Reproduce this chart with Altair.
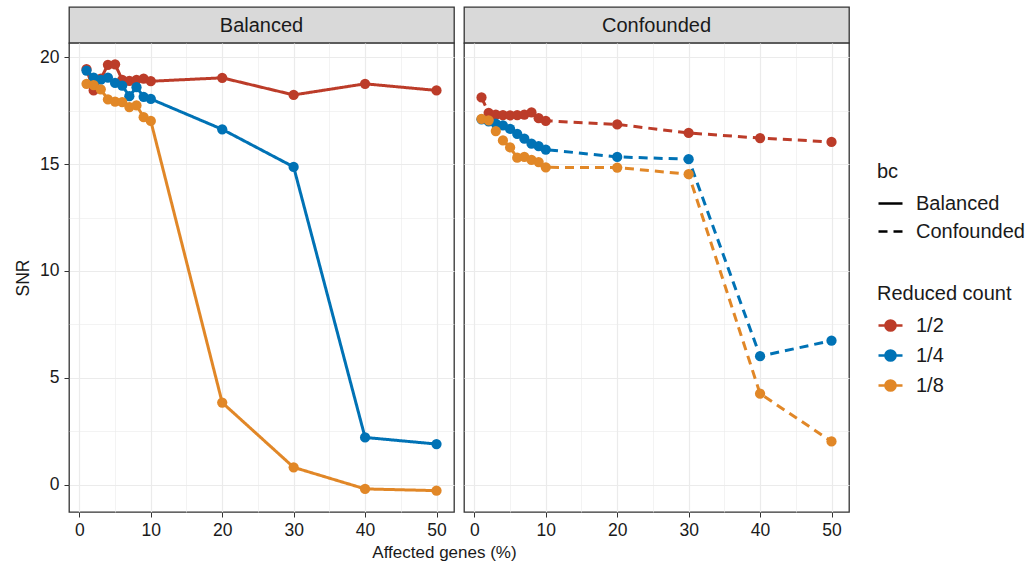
import altair as alt
import pandas as pd

# ---------------- data ----------------
pct = [1, 2, 3, 4, 5, 6, 7, 8, 9, 10, 20, 30, 40, 50]
panels = ["Balanced", "Confounded"]
counts = ["1/2", "1/4", "1/8"]
colors = ["#BC3C29", "#0072B5", "#E18727"]

bal_half = [19.45, 18.45, 19.0, 19.65, 19.67, 18.95, 18.9, 18.95, 19.0, 18.88, 19.04, 18.24, 18.76, 18.45]
bal_quarter = [19.38, 19.05, 18.95, 19.05, 18.8, 18.68, 18.18, 18.6, 18.15, 18.05, 16.63, 14.87, 2.21, 1.90]
bal_eighth = [18.76, 18.7, 18.5, 18.03, 17.93, 17.9, 17.67, 17.75, 17.2, 17.02, 3.84, 0.81, -0.2, -0.28]

conf_half = [18.12, 17.4, 17.32, 17.3, 17.28, 17.3, 17.32, 17.42, 17.15, 17.03, 16.86, 16.46, 16.22, 16.04]
conf_quarter = [17.1, 17.0, 16.9, 16.81, 16.65, 16.42, 16.19, 15.96, 15.84, 15.68, 15.34, 15.23, 6.01, 6.74]
conf_eighth = [17.12, 17.05, 16.55, 16.11, 15.78, 15.3, 15.34, 15.2, 15.1, 14.85, 14.84, 14.53, 4.26, 2.02]

x_ticks = [0, 5, 10, 15, 20, 25, 30, 35, 40, 45, 50]
y_ticks = [0, 2.5, 5, 7.5, 10, 12.5, 15, 17.5, 20]

series = {
    ("Balanced", "1/2"): bal_half,
    ("Balanced", "1/4"): bal_quarter,
    ("Balanced", "1/8"): bal_eighth,
    ("Confounded", "1/2"): conf_half,
    ("Confounded", "1/4"): conf_quarter,
    ("Confounded", "1/8"): conf_eighth,
}

rows = []
for p in panels:
    for c in counts:
        for xv, yv in zip(pct, series[(p, c)]):
            rows.append({"bc": p, "count": c, "pct": xv, "snr": yv})
df = pd.DataFrame(rows)

# ---------------- styling ----------------
FONT = "Liberation Sans"
W, H, SH = 385, 469, 36
TXT = "#1A1A1A"
GRID = "#EBEBEB"
BORDER = "#333333"

legend_symbol = "M-1,0L1,0M0.42,0A0.42,0.42,0,1,1,-0.42,0A0.42,0.42,0,1,1,0.42,0Z"
count_legend = alt.Legend(
    title="Reduced count", orient="none", legendX=808, legendY=277,
    titleFont=FONT, titleFontSize=20, titleFontWeight="normal", titleColor=TXT,
    labelFont=FONT, labelFontSize=20, labelColor=TXT, titlePadding=8,
    symbolType=legend_symbol, symbolSize=576, symbolStrokeWidth=2.6,
    rowPadding=6, labelOffset=12,
)
bc_legend = alt.Legend(
    title="bc", orient="none", legendX=808, legendY=155,
    titleFont=FONT, titleFontSize=20, titleFontWeight="normal", titleColor=TXT,
    labelFont=FONT, labelFontSize=20, labelColor=TXT, titlePadding=8,
    symbolType="stroke", symbolSize=576, symbolStrokeWidth=2.6,
    symbolStrokeColor="black", rowPadding=4, labelOffset=12,
)

cscale = alt.Scale(domain=counts, range=colors)
dscale = alt.Scale(domain=panels, range=[[1, 0], [9, 6]])

major_x = "datum.value % 10 == 0"
major_y = "datum.value % 5 == 0"


def x_axis(first):
    kw = dict(
        values=x_ticks,
        labelExpr=f"{major_x} ? datum.label : ''",
        tickOpacity={"condition": {"test": major_x, "value": 1}, "value": 0},
        gridWidth={"condition": {"test": major_x, "value": 1.2}, "value": 0.6},
        gridColor=GRID, domain=False, tickColor=BORDER, tickSize=5, tickWidth=1,
        labelFont=FONT, labelFontSize=17.5, labelColor=TXT, labelPadding=4,
        labelFlush=False,
    )
    if first:
        kw.update(title="Affected genes (%)", titleFont=FONT, titleFontSize=17,
                  titleFontWeight="normal", titleColor=TXT, titleX=375, titleY=40,
                  titleAlign="center", titleBaseline="middle")
    else:
        kw.update(title=None)
    return alt.Axis(**kw)


def y_axis(first):
    kw = dict(
        values=y_ticks,
        gridWidth={"condition": {"test": major_y, "value": 1.2}, "value": 0.6},
        gridColor=GRID, domain=False,
    )
    if first:
        kw.update(
            labelExpr=f"{major_y} ? datum.label : ''",
            tickOpacity={"condition": {"test": major_y, "value": 1}, "value": 0},
            tickColor=BORDER, tickSize=5, tickWidth=1,
            labelFont=FONT, labelFontSize=17.5, labelColor=TXT, labelPadding=5,
            labelFlush=False,
            title="SNR", titleFont=FONT, titleFontSize=17.5, titleFontWeight="normal",
            titleColor=TXT, titleX=-46, titleY=H / 2, titleAngle=270,
            titleAlign="center", titleBaseline="middle",
        )
    else:
        kw.update(labels=False, ticks=False, title=None)
    return alt.Axis(**kw)


def panel(name, first):
    x = alt.X("pct:Q", scale=alt.Scale(domain=[-1.45, 52.45], nice=False, zero=False),
              axis=x_axis(first))
    y = alt.Y("snr:Q", scale=alt.Scale(domain=[-1.28, 20.67], nice=False, zero=False),
              axis=y_axis(first))
    layers = []
    for c, col in zip(counts, colors):
        d = df[(df["bc"] == name) & (df["count"] == c)]
        layers.append(
            alt.Chart(d).mark_line(strokeWidth=3, color=col).encode(
                x=x, y=y,
                strokeDash=alt.StrokeDash("bc:N", scale=dscale, legend=bc_legend),
            )
        )
    dp = df[df["bc"] == name]
    pts = alt.Chart(dp).mark_circle(size=105, opacity=1, strokeWidth=0).encode(
        x=x, y=y,
        fill=alt.Fill("count:N", scale=cscale, legend=count_legend),
        stroke=alt.Stroke("count:N", scale=cscale, legend=count_legend),
    )
    layers.append(pts)
    return alt.layer(*layers).properties(
        width=W, height=H,
        view=alt.ViewBackground(fill="white", stroke=BORDER, strokeWidth=1.3),
    )


def strip(name):
    d = pd.DataFrame({"bc": [name]})
    return alt.Chart(d).mark_text(
        font=FONT, fontSize=20, color=TXT, baseline="middle", align="center"
    ).encode(
        text="bc:N", x=alt.value(W / 2), y=alt.value(SH / 2 + 1)
    ).properties(
        width=W, height=SH,
        view=alt.ViewBackground(fill="#D9D9D9", stroke=BORDER, strokeWidth=1.3),
    )


chart = alt.concat(
    strip(panels[0]), strip(panels[1]),
    panel(panels[0], True), panel(panels[1], False),
    columns=2, spacing=alt.RowColnumber(row=0, column=10), bounds="flush",
).properties(
    padding={"left": 13, "top": 6, "right": 5, "bottom": 5},
    background="white",
).resolve_scale(stroke="shared", fill="shared", strokeDash="shared")

chart.save("out.html", embed_options={"renderer": "svg", "actions": False})
